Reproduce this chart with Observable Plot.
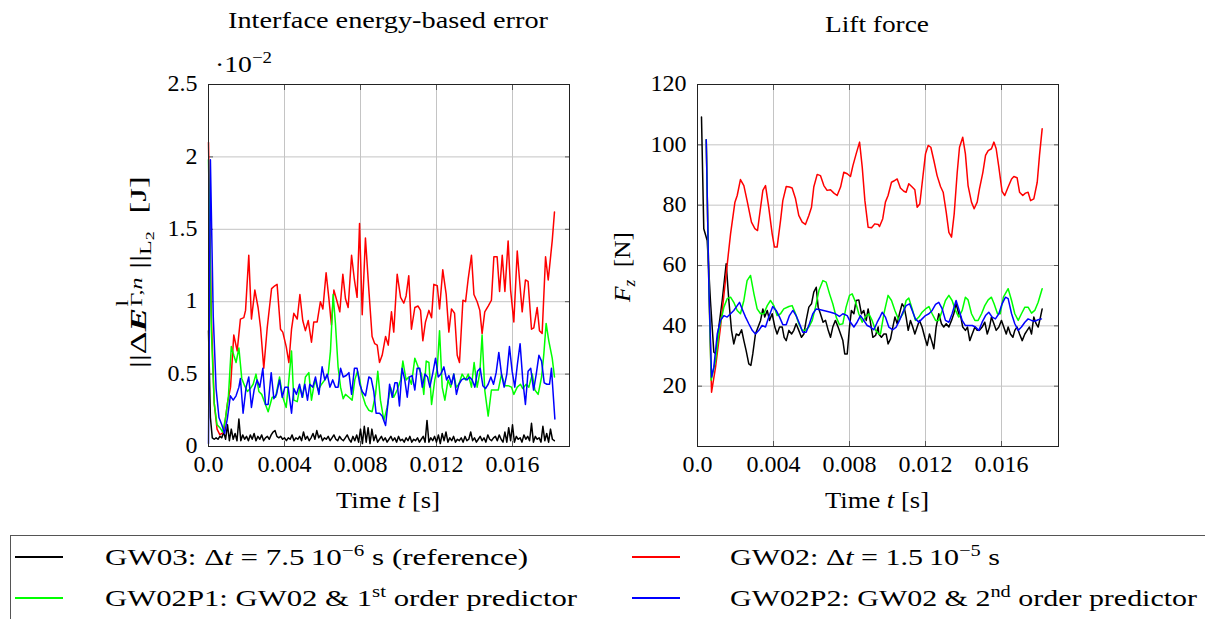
<!DOCTYPE html>
<html><head><meta charset="utf-8">
<script src="https://cdn.jsdelivr.net/npm/d3@7"></script>
<script src="https://cdn.jsdelivr.net/npm/@observablehq/plot@0.6"></script>
<style>
html,body{margin:0;padding:0;background:#fff;}
#root{position:relative;width:1205px;height:619px;overflow:hidden;font-family:"Liberation Serif",serif;color:#000;}
.abs{position:absolute;white-space:nowrap;font-size:24px;line-height:1;}
.abs > span.fit{display:inline-block;transform-origin:0 50%;}
sup{font-size:0.68em;vertical-align:0.55em;line-height:0;}
sub{font-size:0.68em;vertical-align:-0.3em;line-height:0;}
.stack{display:inline-block;position:relative;width:1.1em;height:1em;vertical-align:0;}
.stack span{position:absolute;left:1px;font-size:0.68em;line-height:1;}
.plot{position:absolute;top:0;}
.seg{position:absolute;height:1.6px;}
</style></head>
<body><div id="root"></div>
<script>
// ---------- Data (time in ms) ----------
// Left chart: interface energy-based error, values in 10^-2 J
const errBlackStep = 0.1; // ms
const errBlackV = [0.80,0.20,0.06,0.05,0.06,0.05,0.07,0.06,0.10,0.05,0.15,0.04,0.12,0.05,0.09,0.04,0.19,0.04,0.08,0.05,
0.07,0.04,0.08,0.05,0.09,0.04,0.07,0.05,0.08,0.04,0.06,0.07,0.05,0.08,0.10,0.11,0.07,0.06,0.07,0.05,
0.06,0.04,0.06,0.05,0.08,0.04,0.06,0.05,0.07,0.04,0.10,0.05,0.07,0.04,0.06,0.09,0.05,0.11,0.06,0.08,
0.04,0.06,0.05,0.07,0.04,0.06,0.08,0.05,0.04,0.07,0.05,0.04,0.06,0.08,0.05,0.03,0.07,0.04,0.08,0.03,
0.12,0.02,0.14,0.03,0.13,0.02,0.12,0.04,0.08,0.03,0.05,0.07,0.04,0.06,0.03,0.05,0.07,0.04,0.06,0.03,
0.07,0.04,0.05,0.03,0.06,0.04,0.07,0.03,0.05,0.04,0.06,0.03,0.05,0.07,0.03,0.18,0.03,0.06,0.04,0.07,
0.03,0.08,0.02,0.09,0.04,0.10,0.03,0.06,0.04,0.07,0.03,0.05,0.04,0.06,0.03,0.07,0.04,0.05,0.10,0.04,
0.06,0.03,0.05,0.07,0.04,0.06,0.03,0.08,0.05,0.04,0.06,0.07,0.04,0.08,0.05,0.03,0.10,0.03,0.13,0.04,
0.15,0.03,0.07,0.05,0.06,0.03,0.08,0.05,0.07,0.04,0.16,0.03,0.07,0.05,0.06,0.03,0.14,0.04,0.09,0.03,
0.12,0.05,0.04];
const errRed = [[0,2.1],[0.15,0.9],[0.3,0.3],[0.45,0.12],[0.6,0.08],[0.8,0.1],[1.0,0.3],[1.16,0.41],[1.33,0.77],[1.51,0.66],[1.68,0.88],[1.86,0.89],[1.95,0.94],[2.12,1.32],[2.26,0.88],[2.44,1.08],[2.61,0.96],[2.74,0.82],[2.91,0.54],[3.09,0.82],[3.32,1.09],[3.49,1.11],[3.61,1.12],[3.79,0.81],[3.91,0.79],[4.09,0.69],[4.23,0.58],[4.37,0.81],[4.49,0.92],[4.67,0.88],[4.81,1.05],[4.96,0.87],[5.10,0.80],[5.25,0.87],[5.42,0.72],[5.54,0.86],[5.72,0.86],[5.89,1.0],[6.02,0.95],[6.19,1.20],[6.33,1.03],[6.47,0.84],[6.60,1.08],[6.77,1.0],[6.91,0.93],[7.07,1.19],[7.21,1.02],[7.35,0.96],[7.53,1.32],[7.68,1.15],[7.82,1.03],[7.95,1.54],[8.09,0.91],[8.26,1.44],[8.44,1.08],[8.61,0.76],[8.75,0.71],[8.88,0.70],[9.00,0.58],[9.14,0.63],[9.32,0.76],[9.46,0.70],[9.63,0.93],[9.75,0.79],[9.93,1.19],[10.11,1.03],[10.28,0.99],[10.40,1.04],[10.54,1.18],[10.68,0.81],[10.86,0.96],[11.03,0.97],[11.16,0.94],[11.28,0.73],[11.42,0.86],[11.60,0.94],[11.74,0.89],[11.86,1.12],[12.04,1.11],[12.16,0.95],[12.33,1.22],[12.51,1.05],[12.65,0.79],[12.79,0.95],[12.95,0.92],[13.09,0.63],[13.21,0.58],[13.39,1.01],[13.53,1.0],[13.67,1.16],[13.84,1.32],[13.97,1.05],[14.14,1.0],[14.28,0.94],[14.40,0.78],[14.54,0.93],[14.72,0.97],[14.89,1.01],[15.02,1.31],[15.19,1.31],[15.32,1.07],[15.46,1.32],[15.60,1.07],[15.77,1.42],[15.90,1.08],[16.07,0.86],[16.25,1.35],[16.37,1.15],[16.51,0.93],[16.68,1.15],[16.82,1.14],[17.00,0.81],[17.12,0.82],[17.30,0.96],[17.42,0.80],[17.56,0.78],[17.74,1.31],[17.88,1.15],[18.09,1.42],[18.21,1.62]];
const errGreen = [[0,1.98],[0.15,0.8],[0.3,0.3],[0.45,0.15],[0.6,0.13],[0.75,0.1],[0.9,0.2],[1.05,0.35],[1.2,0.69],[1.33,0.63],[1.45,0.58],[1.6,0.68],[1.75,0.47],[1.9,0.42],[2.05,0.38],[2.2,0.40],[2.35,0.43],[2.5,0.50],[2.65,0.38],[2.8,0.36],[3.14,0.24],[3.35,0.34],[3.53,0.34],[3.74,0.48],[3.91,0.34],[4.09,0.27],[4.23,0.46],[4.37,0.66],[4.49,0.32],[4.67,0.31],[4.81,0.41],[4.96,0.34],[5.10,0.48],[5.28,0.51],[5.42,0.32],[5.60,0.46],[5.77,0.39],[5.95,0.43],[6.12,0.46],[6.30,0.50],[6.42,0.66],[6.56,1.05],[6.68,0.85],[6.82,0.55],[6.95,0.41],[7.09,0.33],[7.21,0.36],[7.39,0.34],[7.56,0.32],[7.70,0.46],[7.84,0.52],[7.96,0.46],[8.09,0.36],[8.26,0.29],[8.44,0.25],[8.61,0.24],[8.79,0.36],[8.91,0.52],[9.05,0.32],[9.23,0.18],[9.40,0.27],[9.58,0.41],[9.75,0.34],[9.93,0.39],[10.11,0.46],[10.23,0.59],[10.40,0.46],[10.54,0.48],[10.68,0.43],[10.86,0.61],[11.03,0.55],[11.21,0.50],[11.33,0.36],[11.46,0.59],[11.60,0.58],[11.74,0.29],[11.91,0.46],[12.04,0.54],[12.16,0.80],[12.30,0.41],[12.44,0.32],[12.61,0.46],[12.75,0.41],[12.91,0.50],[13.04,0.41],[13.18,0.43],[13.35,0.50],[13.53,0.46],[13.67,0.50],[13.84,0.41],[13.98,0.58],[14.14,0.41],[14.28,0.51],[14.40,0.77],[14.54,0.39],[14.72,0.21],[14.89,0.39],[15.07,0.39],[15.25,0.39],[15.42,0.50],[15.60,0.42],[15.77,0.42],[15.95,0.41],[16.07,0.36],[16.25,0.41],[16.42,0.43],[16.54,0.40],[16.72,0.43],[16.86,0.41],[17.04,0.50],[17.18,0.39],[17.35,0.36],[17.53,0.48],[17.65,0.64],[17.77,0.85],[17.91,0.73],[18.09,0.61],[18.21,0.48]];
const errBlue = [[0,0.02],[0.1,1.98],[0.25,0.9],[0.4,0.4],[0.55,0.2],[0.7,0.15],[0.85,0.09],[1.0,0.2],[1.15,0.35],[1.3,0.32],[1.45,0.35],[1.60,0.41],[1.68,0.47],[1.82,0.23],[1.98,0.41],[2.12,0.48],[2.26,0.27],[2.40,0.39],[2.56,0.46],[2.70,0.41],[2.86,0.54],[3.00,0.29],[3.14,0.29],[3.30,0.51],[3.44,0.33],[3.58,0.36],[3.74,0.46],[3.88,0.34],[4.02,0.41],[4.19,0.41],[4.37,0.23],[4.49,0.40],[4.63,0.36],[4.79,0.43],[4.93,0.34],[5.07,0.43],[5.21,0.32],[5.33,0.43],[5.49,0.41],[5.63,0.48],[5.81,0.36],[5.98,0.55],[6.12,0.46],[6.25,0.50],[6.39,0.41],[6.54,0.46],[6.68,0.41],[6.82,0.41],[6.95,0.54],[7.09,0.48],[7.25,0.49],[7.39,0.51],[7.53,0.36],[7.68,0.54],[7.82,0.54],[7.96,0.43],[8.09,0.38],[8.26,0.35],[8.44,0.48],[8.56,0.47],[8.70,0.38],[8.82,0.23],[9.00,0.23],[9.14,0.21],[9.32,0.145],[9.46,0.32],[9.53,0.43],[9.67,0.34],[9.81,0.44],[9.93,0.44],[10.05,0.28],[10.19,0.54],[10.33,0.46],[10.46,0.34],[10.58,0.48],[10.72,0.49],[10.86,0.39],[10.98,0.54],[11.12,0.54],[11.25,0.41],[11.39,0.50],[11.53,0.48],[11.65,0.41],[11.81,0.51],[11.95,0.61],[12.09,0.48],[12.23,0.50],[12.39,0.55],[12.53,0.46],[12.65,0.49],[12.79,0.43],[12.91,0.50],[13.05,0.36],[13.18,0.43],[13.32,0.46],[13.46,0.47],[13.60,0.46],[13.74,0.48],[13.88,0.46],[14.02,0.41],[14.16,0.52],[14.30,0.54],[14.44,0.42],[14.58,0.40],[14.72,0.43],[14.86,0.48],[15.00,0.43],[15.14,0.51],[15.28,0.65],[15.42,0.50],[15.56,0.41],[15.70,0.50],[15.84,0.69],[15.98,0.52],[16.12,0.41],[16.26,0.57],[16.40,0.71],[16.54,0.46],[16.68,0.29],[16.82,0.52],[16.96,0.54],[17.11,0.39],[17.25,0.50],[17.39,0.63],[17.53,0.59],[17.67,0.44],[17.81,0.43],[17.95,0.43],[18.05,0.54],[18.23,0.19]];

// Right chart: lift force F_z in N
const liftBlack = [[0.21,109.2],[0.33,72.2],[0.51,68.3],[0.68,48.4],[0.86,31.3],[0.98,30.7],[1.12,39.6],[1.30,48.4],[1.51,60.6],[1.65,48.4],[1.79,38.5],[1.91,34.0],[2.04,37.3],[2.18,36.8],[2.32,38.7],[2.44,35.1],[2.56,31.8],[2.70,27.4],[2.81,26.9],[2.91,30.7],[3.05,37.3],[3.19,39.6],[3.32,41.8],[3.44,45.6],[3.54,42.9],[3.67,45.1],[3.79,41.8],[3.93,44.0],[4.07,39.6],[4.19,37.3],[4.32,39.6],[4.46,39.6],[4.56,36.2],[4.67,35.1],[4.81,38.5],[4.95,37.3],[5.07,38.5],[5.19,40.7],[5.33,38.5],[5.47,36.2],[5.60,37.3],[5.72,41.8],[5.86,46.2],[6.00,47.3],[6.12,51.2],[6.25,52.8],[6.35,46.2],[6.47,44.0],[6.61,41.2],[6.74,41.8],[6.88,38.5],[7.00,36.2],[7.12,39.6],[7.26,41.8],[7.40,39.6],[7.53,37.3],[7.65,35.1],[7.75,30.7],[7.88,30.7],[8.00,39.6],[8.10,45.1],[8.23,44.0],[8.35,48.4],[8.49,48.6],[8.63,44.0],[8.75,45.1],[8.88,41.8],[8.98,45.6],[9.10,41.2],[9.23,36.2],[9.37,36.8],[9.51,39.6],[9.54,37.3],[9.68,36.2],[9.81,37.3],[9.93,37.3],[10.03,34.0],[10.16,35.7],[10.28,39.6],[10.39,42.9],[10.51,40.7],[10.63,44.0],[10.77,47.3],[10.88,46.2],[10.98,42.9],[11.09,38.5],[11.21,41.8],[11.33,39.6],[11.44,37.3],[11.56,39.6],[11.68,41.8],[11.82,39.6],[11.96,36.2],[12.09,33.5],[12.21,37.3],[12.32,35.1],[12.44,32.4],[12.56,39.6],[12.70,44.0],[12.84,40.7],[12.96,39.6],[13.09,40.7],[13.23,39.6],[13.37,41.8],[13.49,44.0],[13.61,47.3],[13.75,44.0],[13.86,42.9],[13.96,39.6],[14.10,38.5],[14.21,39.6],[14.33,35.1],[14.46,37.3],[14.60,39.6],[14.72,38.5],[14.84,38.5],[14.98,39.6],[15.12,41.2],[15.25,37.3],[15.37,39.6],[15.47,42.9],[15.60,40.7],[15.72,38.5],[15.86,39.6],[16.00,41.8],[16.12,39.6],[16.25,37.3],[16.35,39.6],[16.47,37.3],[16.60,36.2],[16.70,38.5],[16.82,39.6],[16.95,37.3],[17.09,35.1],[17.23,37.3],[17.35,38.5],[17.47,39.6],[17.58,37.3],[17.70,42.9],[17.82,40.7],[17.93,39.6],[18.05,42.9],[18.14,45.6]];
const liftRed = [[0.46,101.7],[0.60,52.8],[0.74,18.0],[0.95,26.3],[1.21,39.6],[1.47,55],[1.74,70.5],[1.97,81],[2.09,83.2],[2.26,88.5],[2.44,86.5],[2.61,81.5],[2.84,74.4],[3.02,72.2],[3.16,71.6],[3.32,79.3],[3.44,84.9],[3.58,86.5],[3.75,79.3],[3.93,70.5],[4.05,66.1],[4.19,66.1],[4.37,74.9],[4.49,81.5],[4.67,86.2],[4.84,86.0],[4.98,85.7],[5.16,82.1],[5.33,76.6],[5.51,74.4],[5.68,73.6],[5.86,76.6],[6.00,79.3],[6.12,86.0],[6.30,90.2],[6.47,89.8],[6.65,86.5],[6.82,84.9],[7.00,85.1],[7.18,84.0],[7.35,83.2],[7.53,86.0],[7.70,90.9],[7.88,90.4],[8.05,89.5],[8.18,93.1],[8.35,97.0],[8.53,100.9],[8.67,92.6],[8.81,81.5],[8.98,72.7],[9.16,72.5],[9.33,73.8],[9.51,73.6],[9.58,72.9],[9.75,75.5],[9.89,81],[10.03,83.2],[10.21,87.6],[10.33,88],[10.51,88.7],[10.68,85.7],[10.86,84.6],[10.98,84.3],[11.12,87.1],[11.30,86.0],[11.44,85.1],[11.56,79.3],[11.70,80.4],[11.86,89.3],[12.00,97],[12.14,99.8],[12.28,99.2],[12.44,94.8],[12.61,89.8],[12.79,86.2],[12.93,84.3],[13.09,77.7],[13.23,71],[13.37,69.4],[13.51,77.1],[13.67,90.9],[13.79,99.2],[13.96,102.5],[14.10,97],[14.24,86.5],[14.42,81],[14.56,78.8],[14.72,81],[14.84,85.4],[15.02,90.9],[15.16,96.5],[15.30,98.1],[15.47,98.7],[15.60,100.9],[15.72,98.7],[15.86,92.6],[16.03,84.6],[16.17,83.2],[16.35,86],[16.53,88.7],[16.65,89.5],[16.82,89.1],[16.95,84.3],[17.12,83.2],[17.26,84],[17.40,84.3],[17.53,81.5],[17.70,82.1],[17.88,87.6],[18.00,96.5],[18.14,105.3]];
const liftGreen = [[0.46,101.7],[0.60,52.8],[0.72,22],[0.95,28.5],[1.16,39.6],[1.39,46.2],[1.56,49],[1.74,49.5],[1.91,47.8],[2.09,45.1],[2.26,44.0],[2.44,48.4],[2.61,55.0],[2.79,56.7],[2.97,50.6],[3.14,45.6],[3.32,44.0],[3.49,44.0],[3.67,46.7],[3.84,48.4],[4.02,46.7],[4.19,43.4],[4.37,44.0],[4.54,45.6],[4.81,46.4],[4.98,46.7],[5.16,44.0],[5.33,40.7],[5.51,38.5],[5.68,38.5],[5.86,39.6],[6.04,41.8],[6.21,46.2],[6.39,51.7],[6.60,55.0],[6.77,54.5],[6.95,50.6],[7.12,47.3],[7.30,42.9],[7.47,40.4],[7.65,40.7],[7.82,46.2],[8.00,50.1],[8.14,50.6],[8.32,47.8],[8.49,44.0],[8.67,41.2],[8.84,42.9],[9.02,44.0],[9.19,41.8],[9.37,38.5],[9.54,37.3],[9.63,37.3],[9.81,44.0],[10.03,50.1],[10.21,48.4],[10.39,45.1],[10.60,41.8],[10.81,44.0],[10.98,48.4],[11.12,49.2],[11.30,45.6],[11.47,41.8],[11.65,42.9],[11.82,44.5],[12.00,45.6],[12.18,46.4],[12.35,44.0],[12.53,41.8],[12.70,41.8],[12.88,45.1],[13.05,48.4],[13.23,50.1],[13.40,48.4],[13.58,45.1],[13.75,42.9],[13.93,45.1],[14.10,49.5],[14.24,48.6],[14.42,44.0],[14.60,41.8],[14.77,41.8],[14.95,44.0],[15.12,46.7],[15.30,48.6],[15.47,49.5],[15.61,47.3],[15.79,44.0],[15.93,44.0],[16.10,49.5],[16.35,52.3],[16.53,48.4],[16.70,44.0],[16.88,41.8],[17.05,44.0],[17.23,46.2],[17.40,46.2],[17.58,44.2],[17.75,45.1],[17.93,47.8],[18.14,52.3]];
const liftBlue = [[0.46,101.7],[0.60,52.8],[0.74,23],[0.86,26.3],[1.04,37.3],[1.21,41.8],[1.39,43.4],[1.56,42.9],[1.74,44.0],[1.91,45.1],[2.09,46.7],[2.21,47.8],[2.35,45.6],[2.53,42.9],[2.70,40.7],[2.88,38.5],[3.05,37.3],[3.23,38.5],[3.40,40.1],[3.58,39.6],[3.75,42.9],[3.96,46.4],[4.14,45.1],[4.32,42.9],[4.49,40.4],[4.67,40.4],[4.84,43.4],[5.02,45.1],[5.19,43.4],[5.37,40.7],[5.54,37.9],[5.72,37.9],[5.89,40.7],[6.07,44.0],[6.25,45.6],[6.47,45.3],[6.74,44.9],[7.00,44.5],[7.26,44.0],[7.47,43.1],[7.65,44.0],[7.88,43.4],[8.05,41.2],[8.23,39.6],[8.40,41.2],[8.58,43.4],[8.75,41.8],[8.93,40.1],[9.10,39.6],[9.28,38.7],[9.46,41.2],[9.60,42.9],[9.72,44.5],[9.89,42.9],[10.07,39.6],[10.28,38.7],[10.46,39.6],[10.63,41.8],[10.81,44.5],[10.98,46.7],[11.16,47.3],[11.30,45.1],[11.47,42.3],[11.65,41.2],[11.82,42.3],[12.00,43.4],[12.18,44.0],[12.35,45.1],[12.53,47.1],[12.70,47.8],[12.88,45.6],[13.05,41.8],[13.23,41.2],[13.40,44.0],[13.61,48.4],[13.75,45.6],[13.93,41.8],[14.10,40.1],[14.28,40.1],[14.46,40.1],[14.63,39.6],[14.81,38.5],[14.98,41.2],[15.16,43.4],[15.33,44.5],[15.51,42.9],[15.68,42.3],[15.86,44.0],[16.03,47.3],[16.21,49.5],[16.35,49.0],[16.53,44.0],[16.70,40.7],[16.88,38.5],[17.05,39.6],[17.23,41.2],[17.40,42.3],[17.58,41.8],[17.75,41.5],[17.93,42.0],[18.10,42.3]];

const xTicks = [0, 4, 8, 12, 16];            // ms
const errTicks = [0, 0.5, 1, 1.5, 2, 2.5];   // 10^-2 J
const liftTicks = [20, 40, 60, 80, 100, 120]; // N
const seriesColors = ["#000000", "#ff0000", "#00ff00", "#0000ff"]; // GW03, GW02, GW02P1, GW02P2

// ---------- Build ----------
const root = document.getElementById("root");
const pts = arr => arr.map(([t, v]) => ({t, v}));
const errBlack = errBlackV.map((v, i) => ({t: +(i * errBlackStep).toFixed(2), v}));
const xFmt = d => d === 0 ? "0.0" : (d / 1000).toFixed(3);

function chart({series, yDomain, yTicks, ml, mr, w}) {
  return Plot.plot({
    width: w, height: 530,
    marginTop: 84, marginBottom: 84, marginLeft: ml, marginRight: mr,
    style: {fontFamily: "Liberation Serif", fontSize: "24px", color: "#000", background: "transparent", overflow: "visible"},
    x: {domain: [0, 19]},
    y: {domain: yDomain},
    marks: [
      Plot.gridX(xTicks, {stroke: "#c4c4c4", strokeOpacity: 1, strokeWidth: 1}),
      Plot.gridY(yTicks, {stroke: "#c4c4c4", strokeOpacity: 1, strokeWidth: 1}),
      Plot.axisX(xTicks, {anchor: "bottom", tickSize: 0, tickPadding: 8, tickFormat: xFmt, label: null, fill: "#000"}),
      Plot.axisY(yTicks, {anchor: "left", tickSize: 0, tickPadding: 11, dy: -1, tickFormat: d => String(d), label: null, fill: "#000"}),
      Plot.axisX(xTicks, {anchor: "bottom", tickSize: -5, tickFormat: () => "", label: null, stroke: "#555"}),
      Plot.axisX(xTicks, {anchor: "top", tickSize: -5, tickFormat: () => "", label: null, stroke: "#555"}),
      Plot.axisY(yTicks, {anchor: "left", tickSize: -5, tickFormat: () => "", label: null, stroke: "#555"}),
      Plot.axisY(yTicks, {anchor: "right", tickSize: -5, tickFormat: () => "", label: null, stroke: "#555"}),
      ...series.map((d, i) => Plot.line(d, {x: "t", y: "v", stroke: seriesColors[i], strokeWidth: 1.5})),
      Plot.frame({stroke: "#222", strokeWidth: 1})
    ]
  });
}

const left = chart({
  series: [errBlack, pts(errRed), pts(errGreen), pts(errBlue)],
  yDomain: [0, 2.5], yTicks: errTicks, ml: 208, mr: 31, w: 600
});
left.classList.add("plot"); left.style.left = "0px";
root.appendChild(left);

const right = chart({
  series: [pts(liftBlack), pts(liftRed), pts(liftGreen), pts(liftBlue)],
  yDomain: [0, 120], yTicks: liftTicks, ml: 97, mr: 147, w: 605
});
right.classList.add("plot"); right.style.left = "600px";
root.appendChild(right);

// place text at anchor (x,y); mode "c" centred, "l" left-aligned, "r" rotated & centred.
// target = reference text width: the text is stretched horizontally to fit it.
function place(html, x, y, mode, target) {
  const d = document.createElement("div");
  d.className = "abs";
  const s = document.createElement("span");
  s.className = "fit";
  s.innerHTML = html;
  d.appendChild(s);
  root.appendChild(d);
  const w0 = s.getBoundingClientRect().width;
  const h0 = s.getBoundingClientRect().height;
  const k = target ? target / w0 : 1;
  s.style.transform = `scaleX(${k})`;
  const w = w0 * k;
  if (mode === "c") { d.style.left = (x - w / 2) + "px"; d.style.top = (y - h0 / 2) + "px"; }
  else if (mode === "l") { d.style.left = x + "px"; d.style.top = (y - h0 / 2) + "px"; }
  else if (mode === "r") {
    d.style.left = (x - w / 2) + "px"; d.style.top = (y - h0 / 2) + "px";
    d.style.transformOrigin = `${w / 2}px ${h0 / 2}px`;
    d.style.transform = "rotate(-90deg)";
  }
  return d;
}
place("Interface energy-based error", 388, 20, "c", 320);
place("Lift force", 877, 24, "c", 104);
place("·10<sup>−2</sup>", 215, 64, "l", 57);
place("Time <i>t</i> [s]", 388, 500, "c", 104);
place("Time <i>t</i> [s]", 877, 500, "c", 104);
place("||Δ<b><i>E</i></b><span class='stack'><span style='top:-0.4em'>l</span><span style='top:0.45em'>Γ,<i>n</i></span></span>||<sub>L<sub style='font-size:0.75em'>2</sub></sub>&nbsp;&nbsp;[J]", 136, 272, "r", 192);
place("<i>F<sub>z</sub></i>&nbsp;&nbsp;[N]", 622, 267, "r", 70);

// legend
const box = document.createElement("div");
box.style.cssText = "position:absolute;left:10px;top:535px;width:1200px;height:100px;border-top:1px solid #555;border-left:1px solid #555;";
root.appendChild(box);
const legendItems = [
  {c: seriesColors[0], x: 15, tx: 105, y: 557, w: 423, html: "GW03: Δ<i>t</i> = 7.5&#8201;10<sup>−6</sup> s (reference)"},
  {c: seriesColors[1], x: 632, tx: 730, y: 557, w: 270, html: "GW02: Δ<i>t</i> = 1.5&#8201;10<sup>−5</sup> s"},
  {c: seriesColors[2], x: 15, tx: 105, y: 598, w: 472, html: "GW02P1: GW02 &amp; 1<sup>st</sup> order predictor"},
  {c: seriesColors[3], x: 632, tx: 730, y: 598, w: 467, html: "GW02P2: GW02 &amp; 2<sup>nd</sup> order predictor"}
];
legendItems.forEach(e => {
  const s = document.createElement("div");
  s.className = "seg";
  s.style.left = e.x + "px"; s.style.top = (e.y - 1) + "px"; s.style.width = "48px"; s.style.background = e.c;
  root.appendChild(s);
  place(e.html, e.tx, e.y, "l", e.w);
});
</script></body></html>
